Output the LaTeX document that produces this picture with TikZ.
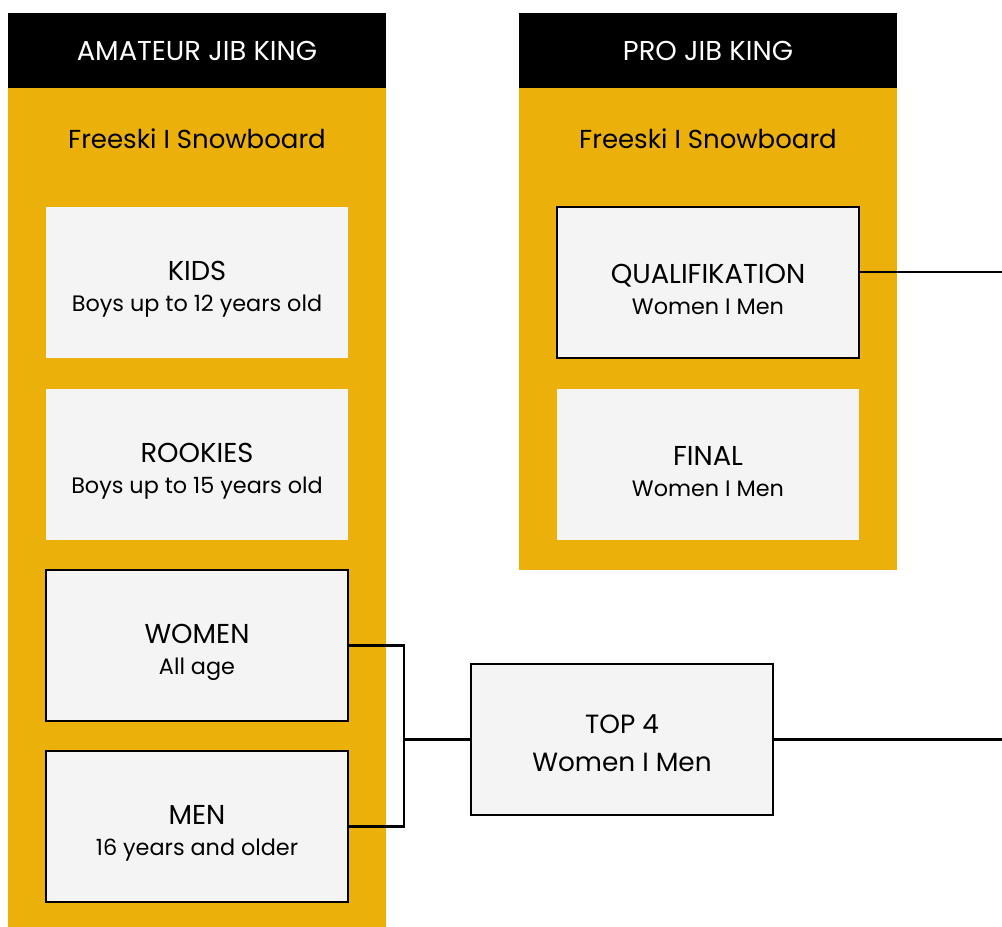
\documentclass[tikz,border=0pt]{standalone}
\usepackage{fontspec}
\setmainfont{Poppins}
\definecolor{jibyellow}{HTML}{EBB10A}
\definecolor{boxgray}{HTML}{F4F4F4}
\newcommand{\ttl}[1]{{\fontsize{20.5}{23.5}\selectfont\rule{0pt}{25pt}#1}}
\tikzset{
  colhead/.style={fill=black,text=white,minimum width=283.5pt,minimum height=56.25pt,inner sep=0pt,font=\fontsize{20.5}{24}\selectfont},
  colbody/.style={fill=jibyellow,minimum width=283.5pt,inner sep=0pt},
  subhead/.style={font=\fontsize{19.5}{23}\selectfont,inner sep=0pt},
  catbox/.style={fill=boxgray,minimum width=226.5pt,minimum height=113.25pt,inner sep=0pt,align=center,font=\fontsize{16.75}{23.5}\selectfont},
  framed/.style={draw=black,line width=1.8pt},
  bigbox/.style={catbox,font=\fontsize{19.75}{29}\selectfont},
  conn/.style={line width=1.8pt,draw=black}
}
\begin{document}
\begin{tikzpicture}[x=0.75pt,y=-0.75pt]
\useasboundingbox (0,0) rectangle (1002,927);
% left column
\node[colbody,minimum height=630pt] (ambody) at (197,507) {};
\node[colhead] (amhead) at (197,50.5) {AMATEUR JIB KING};
\node[subhead] (amsub) at (197,139) {Freeski I Snowboard};
% right column
\node[colbody,minimum height=362.25pt] (probody) at (708,328.5) {};
\node[colhead] (prohead) at (708,50.5) {PRO JIB KING};
\node[subhead] (prosub) at (708,139) {Freeski I Snowboard};
% boxes
\node[catbox] (kids) at (197,282.5) {\ttl{KIDS}\\Boys up to 12 years old};
\node[catbox] (rookies) at (197,464.5) {\ttl{ROOKIES}\\Boys up to 15 years old};
\node[catbox,framed] (women) at (197,645.5) {\ttl{WOMEN}\\All age};
\node[catbox,framed] (men) at (197,826.5) {\ttl{MEN}\\16 years and older};
\node[catbox,framed] (qual) at (708,282.5) {\ttl{QUALIFIKATION}\\Women I Men};
\node[catbox] (final) at (708,464.5) {\ttl{FINAL}\\Women I Men};
\node[bigbox,framed] (top4) at (622,739.5) {\rule{0pt}{19.5pt}TOP 4\\Women I Men};
% connectors
\coordinate (jn) at (404,739.5);
\coordinate (e1) at (1002,739.5);
\coordinate (e2) at (1002,272);
\draw[conn] (women.east) -- (women.east -| jn) -- (men.east -| jn) -- (men.east);
\draw[conn] (jn) -- (top4.west);
\draw[conn] (top4.east) -- (e1);
\draw[conn] (qual.east |- e2) -- (e2);
\end{tikzpicture}
\end{document}
